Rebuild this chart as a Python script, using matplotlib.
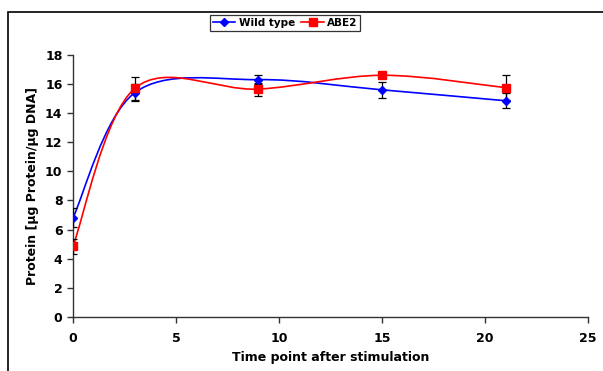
import numpy as np
import matplotlib.pyplot as plt
from matplotlib.path import Path
from matplotlib.patches import PathPatch, Rectangle

time = [0, 3, 9, 15, 21]
wild_type = [6.8, 15.4, 16.3, 15.6, 14.85]
wild_type_err = [0.65, 0.6, 0.3, 0.55, 0.5]
abe2 = [4.85, 15.7, 15.65, 16.6, 15.75]
abe2_err = [0.5, 0.8, 0.45, 0.2, 0.85]


def smooth_path(x, y):
    # excel-like smoothed line: cubic bezier segments, catmull-rom control points
    x = np.asarray(x, float)
    y = np.asarray(y, float)
    n = len(x)
    verts = [(x[0], y[0])]
    codes = [Path.MOVETO]
    for i in range(n - 1):
        i0 = max(i - 1, 0)
        i3 = min(i + 2, n - 1)
        c1 = (x[i] + (x[i + 1] - x[i0]) / 6, y[i] + (y[i + 1] - y[i0]) / 6)
        c2 = (x[i + 1] - (x[i3] - x[i]) / 6, y[i + 1] - (y[i3] - y[i]) / 6)
        verts += [c1, c2, (x[i + 1], y[i + 1])]
        codes += [Path.CURVE4] * 3
    return Path(verts, codes)


plt.rcParams['font.family'] = 'DejaVu Sans'
plt.rcParams['font.weight'] = 'bold'

fig = plt.figure(figsize=(6.03, 3.71), dpi=100)
ax = fig.add_axes([0.121, 0.146, 0.854, 0.706])

# outer chart frame (clipped on right/bottom like the reference)
fig.patches.append(Rectangle((8 / 603, -0.1), 1.2, 1 - 12 / 371 + 0.1,
                             transform=fig.transFigure, fill=False,
                             edgecolor='black', linewidth=1.2))

for ys, err, col, mk, ms, lab in [(wild_type, wild_type_err, '#0000ff', 'D', 4.5, 'Wild type'),
                                   (abe2, abe2_err, '#ff0000', 's', 5.5, 'ABE2')]:
    ax.add_patch(PathPatch(smooth_path(time, ys), fill=False, edgecolor=col, lw=1.2, zorder=2))
    ax.errorbar(time, ys, yerr=err, fmt='none', ecolor='black', elinewidth=0.9,
                capsize=3, capthick=0.9, zorder=3)
    ax.plot(time, ys, ls='None', color=col, marker=mk, ms=ms, label=lab, zorder=4)

# legend handles with line
h = [plt.Line2D([], [], color='#0000ff', marker='D', ms=4.5, lw=1.2),
     plt.Line2D([], [], color='#ff0000', marker='s', ms=5.5, lw=1.2)]
leg = fig.legend(h, ['Wild type', 'ABE2'], loc='center', bbox_to_anchor=(285 / 603, 1 - 23 / 371),
                 ncol=2, fontsize=7.5, frameon=True, fancybox=False, edgecolor='black',
                 borderpad=0.25, handlelength=2.2, handletextpad=0.3, columnspacing=0.6)
leg.get_frame().set_linewidth(0.9)

ax.set_xlim(0, 25)
ax.set_ylim(0, 18)
ax.set_xticks([0, 5, 10, 15, 20, 25])
ax.set_yticks(range(0, 19, 2))
ax.spines['top'].set_visible(False)
ax.spines['right'].set_visible(False)
for s in ['left', 'bottom']:
    ax.spines[s].set_color('#333333')
    ax.spines[s].set_linewidth(1)
ax.tick_params(direction='out', length=4, width=1, color='#333333', labelsize=9)
ax.tick_params(axis='x', pad=7)
ax.set_xlabel('Time point after stimulation', fontsize=9, fontweight='bold', labelpad=4)
ax.set_ylabel('Protein [µg Protein/µg DNA]', fontsize=9, fontweight='bold', labelpad=4)
ax.patch.set_alpha(0)

fig.savefig('out.png', dpi=100)
